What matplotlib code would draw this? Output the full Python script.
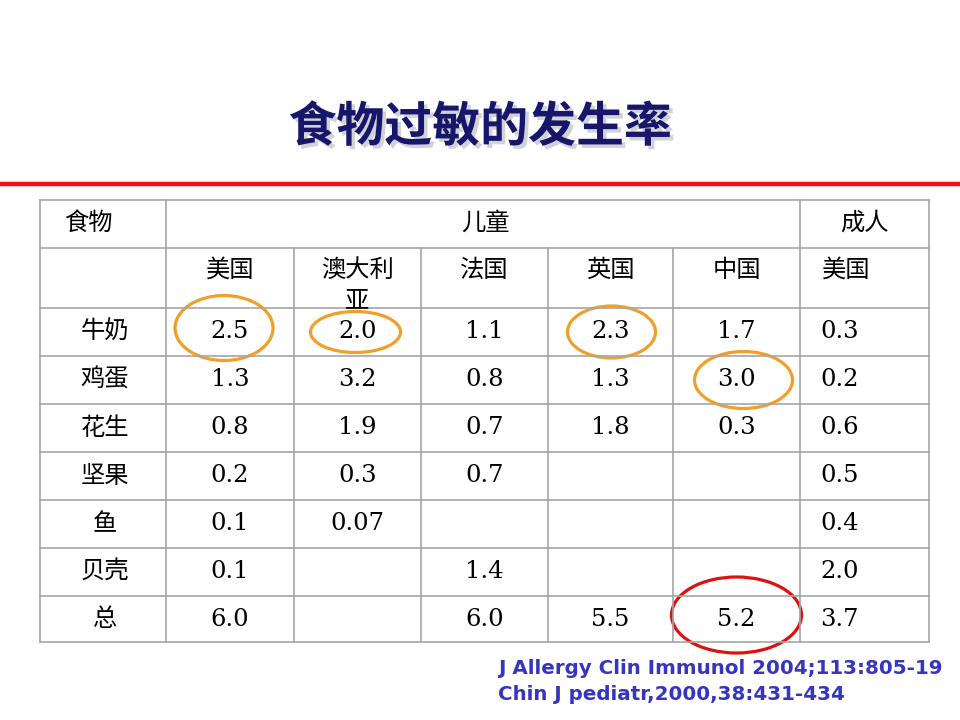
import matplotlib.pyplot as plt
import matplotlib.patheffects as pe
from matplotlib.patches import Ellipse, Rectangle

plt.rcParams['font.family'] = ['Noto Sans CJK SC', 'DejaVu Sans']

# data
title = '食物过敏的发生率'
foods = ['牛奶', '鸡蛋', '花生', '坚果', '鱼', '贝壳', '总']
countries = ['美国', '澳大利亚', '法国', '英国', '中国', '美国']
groups = ['儿童', '成人']
values = [
    ['2.5', '2.0', '1.1', '2.3', '1.7', '0.3'],
    ['1.3', '3.2', '0.8', '1.3', '3.0', '0.2'],
    ['0.8', '1.9', '0.7', '1.8', '0.3', '0.6'],
    ['0.2', '0.3', '0.7', '', '', '0.5'],
    ['0.1', '0.07', '', '', '', '0.4'],
    ['0.1', '', '1.4', '', '', '2.0'],
    ['6.0', '', '6.0', '5.5', '5.2', '3.7'],
]
# (row, col) of circled cells
orange_marks = [(0, 0), (0, 1), (0, 3), (1, 4)]
red_marks = [(6, 4)]
refs = ['J Allergy Clin Immunol 2004;113:805-19',
        'Chin J pediatr,2000,38:431-434']

# layout in pixels
col_x = [40, 166, 294, 421, 548, 673, 800, 929]
row_y = [200, 248, 308, 356, 404, 452, 500, 548, 596, 642]
line_col = '#a6a6a6'

fig = plt.figure(figsize=(9.6, 7.2), dpi=100)
ax = fig.add_axes([0, 0, 1, 1])
ax.set_xlim(0, 960)
ax.set_ylim(720, 0)
ax.axis('off')

# title + red rule
ax.text(480, 127, title, ha='center', va='center', fontsize=34.5, fontweight='bold',
        color='#16166b',
        path_effects=[pe.withSimplePatchShadow(offset=(2.5, -2.5), shadow_rgbFace='#9a9aaa', alpha=0.45)])
ax.plot([0, 960], [184, 184], color='#ee1111', lw=3.2, solid_capstyle='butt')

# grid
for y in row_y:
    ax.plot([col_x[0], col_x[-1]], [y, y], color=line_col, lw=1.2)
for i, x in enumerate(col_x):
    top = row_y[0] if i in (0, 1, 6, 7) else row_y[1]
    ax.plot([x, x], [top, row_y[-1]], color=line_col, lw=1.2)

num_font = dict(fontfamily='DejaVu Serif', fontsize=17.5, color='black')
cjk_font = dict(fontsize=17.5, color='black')

# header rows
ax.text(88, 223, '食物', ha='center', va='center', **cjk_font)
ax.text((col_x[1] + col_x[6]) / 2 + 2, 223, groups[0], ha='center', va='center', **cjk_font)
ax.text((col_x[6] + col_x[7]) / 2, 223, groups[1], ha='center', va='center', **cjk_font)
for j, name in enumerate(countries):
    cx = (col_x[j + 1] + col_x[j + 2]) / 2
    if j == 5:
        ax.text(col_x[6] + 22, 270, name, ha='left', va='center', **cjk_font)
    elif len(name) > 3:
        ax.text(cx, 270, name[:3], ha='center', va='center', **cjk_font)
        t = ax.text(cx, 300, name[3:], ha='center', va='center', **cjk_font)
        clip = Rectangle((col_x[j + 1], row_y[1]), col_x[j + 2] - col_x[j + 1],
                         row_y[2] - row_y[1], transform=ax.transData, visible=False)
        ax.add_patch(clip)
        t.set_clip_path(clip)
    else:
        ax.text(cx, 270, name, ha='center', va='center', **cjk_font)

# body
for i, food in enumerate(foods):
    y = (row_y[i + 2] + row_y[i + 3]) / 2
    ax.text(105, y, food, ha='center', va='center', **cjk_font)
    for j, v in enumerate(values[i]):
        if not v:
            continue
        if j == 5:
            ax.text(col_x[6] + 20, y, v, ha='left', va='center', **num_font)
        else:
            cx = (col_x[j + 1] + col_x[j + 2]) / 2
            ax.text(cx, y, v, ha='center', va='center', **num_font)

# circles
ell_size = {(0, 0): (98, 65, -6, -4), (0, 1): (90, 41, -2, 0), (0, 3): (88, 52, 1, 0),
            (1, 4): (98, 57, 7, 0), (6, 4): (130, 76, 0, -4)}
for marks, col in ((orange_marks, '#f0a02a'), (red_marks, '#e01010')):
    for r, c in marks:
        w, h, dx, dy = ell_size[(r, c)]
        cx = (col_x[c + 1] + col_x[c + 2]) / 2 + dx
        cy = (row_y[r + 2] + row_y[r + 3]) / 2 + dy
        ax.add_patch(Ellipse((cx, cy), w, h, fill=False, ec=col, lw=2.3))

# references
for k, ref in enumerate(refs):
    ax.text(498, 668 + k * 26, ref, ha='left', va='center', fontfamily='DejaVu Sans',
            fontweight='bold', fontsize=14.3, color='#3535c0')

fig.savefig('out.png', dpi=100)
